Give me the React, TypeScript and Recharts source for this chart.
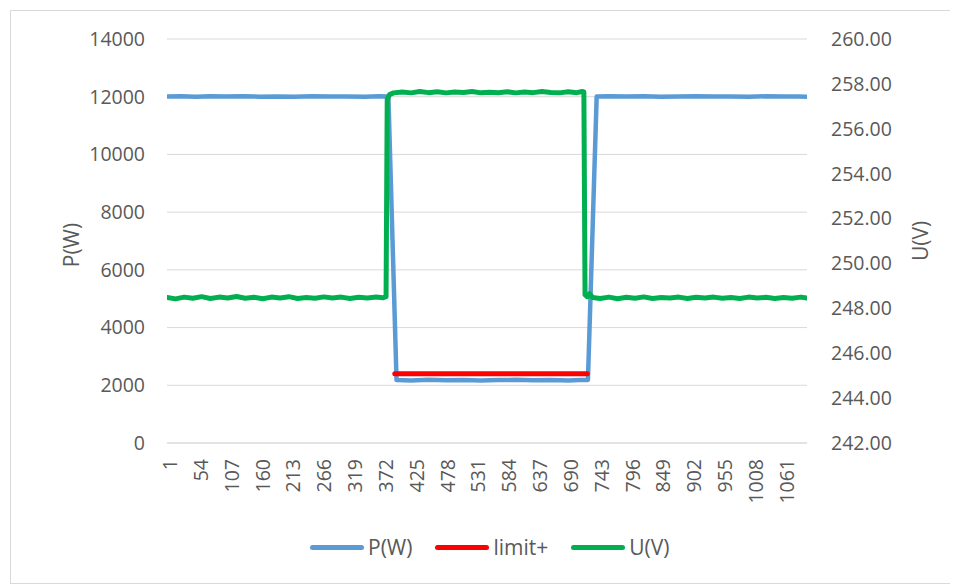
import React from 'react'
import { CartesianGrid, Line, LineChart, XAxis, YAxis } from 'recharts'

// Samples: [index, value]
const powerPoints: [number, number][] = [
  [1, 12010], [25, 12020], [50, 12000], [75, 12015], [100, 12005], [130, 12020], [160, 12000],
  [190, 12010], [220, 12000], [250, 12015], [280, 12005], [310, 12010], [340, 12000], [365, 12015],
  [381, 12010], [395, 2180], [420, 2170], [450, 2190], [480, 2175], [510, 2185], [540, 2170],
  [570, 2180], [600, 2190], [630, 2175], [660, 2185], [690, 2170], [710, 2180], [724, 2185],
  [739, 12010], [760, 12020], [790, 12005], [820, 12015], [850, 12000], [880, 12010], [910, 12020],
  [940, 12005], [970, 12010], [1000, 12000], [1030, 12015], [1060, 12005], [1085, 12010], [1100, 12000],
]

const limitPoints: [number, number][] = [
  [392, 2400], [723, 2400],
]

const voltagePoints: [number, number][] = [
  [1, 248.48], [15, 248.42], [30, 248.5], [45, 248.45], [60, 248.52], [75, 248.44], [90, 248.5],
  [105, 248.46], [120, 248.53], [135, 248.45], [150, 248.49], [165, 248.43], [180, 248.5],
  [195, 248.46], [210, 248.52], [225, 248.44], [240, 248.48], [255, 248.45], [270, 248.51],
  [285, 248.46], [300, 248.5], [315, 248.44], [330, 248.49], [345, 248.46], [360, 248.5],
  [372, 248.47], [377, 248.52], [379, 257.3], [383, 257.52], [390, 257.6], [405, 257.64],
  [420, 257.6], [435, 257.66], [450, 257.61], [465, 257.65], [480, 257.6], [495, 257.64],
  [510, 257.62], [525, 257.66], [540, 257.6], [555, 257.63], [570, 257.61], [585, 257.65],
  [600, 257.6], [615, 257.64], [630, 257.61], [645, 257.66], [660, 257.62], [675, 257.6],
  [690, 257.65], [705, 257.61], [714, 257.66], [717, 257.64], [719, 248.6], [723, 248.52],
  [727, 248.65], [732, 248.48], [745, 248.44], [760, 248.5], [775, 248.43], [790, 248.49],
  [805, 248.45], [820, 248.51], [835, 248.44], [850, 248.48], [865, 248.46], [880, 248.5],
  [895, 248.44], [910, 248.49], [925, 248.46], [940, 248.5], [955, 248.45], [970, 248.48],
  [985, 248.44], [1000, 248.5], [1015, 248.46], [1030, 248.49], [1045, 248.44], [1060, 248.48],
  [1075, 248.45], [1090, 248.5], [1100, 248.46],
]

const xTicks = [1, 54, 107, 160, 213, 266, 319, 372, 425, 478, 531, 584, 637, 690, 743, 796, 849, 902, 955, 1008, 1061]
const powerTicks = [0, 2000, 4000, 6000, 8000, 10000, 12000, 14000]
const voltageTicks = [242, 244, 246, 248, 250, 252, 254, 256, 258, 260]

const FONT = '"Open Sans", sans-serif'
const GREY = '#595959'

const powerData = powerPoints.map(([i, v]) => ({ i, p: v }))
const limitData = limitPoints.map(([i, v]) => ({ i, l: v }))
const voltageData = voltagePoints.map(([i, v]) => ({ i, u: v }))

function XTick(props: any) {
  const { x, y, payload } = props
  return (
    <g transform={`translate(${x},${y})`}>
      <text transform="rotate(-90)" x={-8} y={0} dy="0.5em" textAnchor="end" fill={GREY} fontSize={19.5} fontFamily={FONT}>
        {payload.value}
      </text>
    </g>
  )
}

function AxisTitle({ viewBox, value, dxFromLeft, dy = 0 }: any) {
  const cx = viewBox.x + dxFromLeft
  const cy = viewBox.y + viewBox.height / 2 + dy
  return (
    <text x={cx} y={cy} transform={`rotate(-90, ${cx}, ${cy})`} textAnchor="middle" dominantBaseline="central" fill={GREY} fontSize={21} fontFamily={FONT}>
      {value}
    </text>
  )
}

const legendItems = [
  { name: 'P(W)', color: '#5B9BD5' },
  { name: 'limit+', color: '#FF0000' },
  { name: 'U(V)', color: '#00B050' },
]

export default function App() {
  return (
    <div style={{ position: 'relative', width: 946, height: 572, marginLeft: 2, marginTop: 2, border: '1px solid #d9d9d9', background: '#fff' }}>
      <LineChart width={946} height={572} margin={{ top: 28, right: 20, bottom: 80, left: 56 }}>
        <CartesianGrid yAxisId="left" vertical={false} stroke="#d9d9d9" strokeWidth={1} />
        <XAxis
          dataKey="i"
          type="number"
          domain={[0.5, 1100.5]}
          ticks={xTicks}
          interval={0}
          allowDataOverflow
          height={60}
          tickLine={false}
          axisLine={{ stroke: '#d9d9d9' }}
          tick={<XTick />}
        />
        <YAxis
          yAxisId="left"
          width={100}
          domain={[0, 14000]}
          ticks={powerTicks}
          interval={0}
          tickLine={false}
          axisLine={false}
          tickMargin={16}
          tick={{ fill: GREY, fontSize: 19.5, fontFamily: FONT }}
          label={{ content: (p: any) => <AxisTitle viewBox={p.viewBox} value="P(W)" dxFromLeft={4} dy={4} /> }}
        />
        <YAxis
          yAxisId="right"
          orientation="right"
          width={130}
          domain={[242, 260]}
          ticks={voltageTicks}
          interval={0}
          tickLine={false}
          axisLine={false}
          tickMargin={18}
          tickFormatter={(v: number) => v.toFixed(2)}
          tick={{ fill: GREY, fontSize: 19.5, fontFamily: FONT }}
          label={{ content: (p: any) => <AxisTitle viewBox={p.viewBox} value="U(V)" dxFromLeft={113} /> }}
        />
        <Line yAxisId="left" data={powerData} dataKey="p" name="P(W)" type="linear" stroke="#5B9BD5" strokeWidth={4.5} dot={false} strokeLinejoin="round" strokeLinecap="round" isAnimationActive={false} />
        <Line yAxisId="left" data={limitData} dataKey="l" name="limit+" type="linear" stroke="#FF0000" strokeWidth={5} dot={false} strokeLinecap="round" isAnimationActive={false} />
        <Line yAxisId="right" data={voltageData} dataKey="u" name="U(V)" type="linear" stroke="#00B050" strokeWidth={5} dot={false} strokeLinejoin="round" strokeLinecap="round" isAnimationActive={false} />
      </LineChart>
      <div style={{ position: 'absolute', left: 299, top: 525, height: 22, display: 'flex', alignItems: 'center', gap: 23, fontFamily: FONT, fontSize: 21, color: GREY }}>
        {legendItems.map((it) => (
          <div key={it.name} style={{ display: 'flex', alignItems: 'center', gap: 4 }}>
            <span style={{ display: 'inline-block', width: 54, height: 5, borderRadius: 3, background: it.color }} />
            <span>{it.name}</span>
          </div>
        ))}
      </div>
    </div>
  )
}
